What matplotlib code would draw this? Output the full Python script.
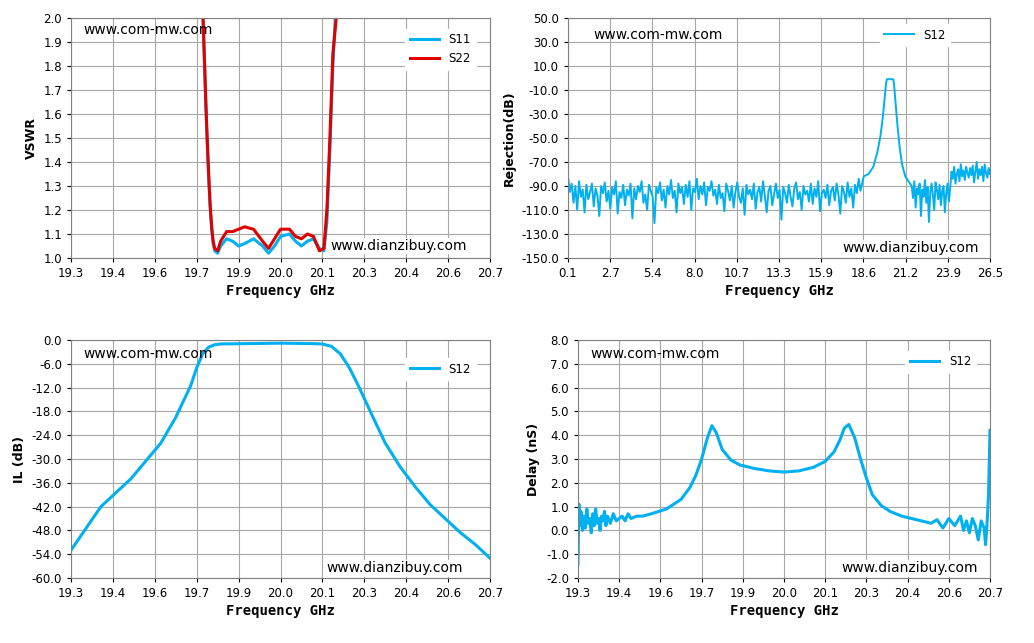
import numpy as np
import matplotlib.pyplot as plt

plt.rcParams['font.family'] = 'DejaVu Sans'

blue = '#00B0F0'
red = '#E00000'

# VSWR
vswr_f11 = [19.740, 19.745, 19.75, 19.755, 19.76, 19.765, 19.77, 19.775, 19.78, 19.79, 19.80, 19.82, 19.84, 19.86, 19.88,
            19.91, 19.94, 19.96, 19.98, 20.00, 20.03, 20.05, 20.07, 20.09, 20.11, 20.13, 20.145, 20.155, 20.165, 20.175, 20.185]
vswr_s11 = [2.05, 1.85, 1.65, 1.48, 1.33, 1.21, 1.12, 1.06, 1.03, 1.02, 1.05, 1.08, 1.07, 1.05, 1.06,
            1.08, 1.05, 1.02, 1.05, 1.09, 1.10, 1.07, 1.05, 1.07, 1.08, 1.04, 1.03, 1.15, 1.45, 1.8, 2.05]
vswr_f22 = [19.740, 19.745, 19.75, 19.755, 19.76, 19.765, 19.77, 19.775, 19.78, 19.79, 19.80, 19.82, 19.84, 19.86, 19.88,
            19.91, 19.94, 19.96, 19.98, 20.00, 20.03, 20.05, 20.07, 20.09, 20.11, 20.13, 20.145, 20.155, 20.165, 20.175, 20.19]
vswr_s22 = [2.05, 1.86, 1.67, 1.50, 1.35, 1.22, 1.13, 1.07, 1.04, 1.03, 1.07, 1.11, 1.11, 1.12, 1.13,
            1.12, 1.07, 1.04, 1.08, 1.12, 1.12, 1.09, 1.08, 1.10, 1.09, 1.03, 1.04, 1.2, 1.5, 1.85, 2.05]

# Rejection
rej_noise_lo = [-82, -95, -88, -104, -90, -110, -86, -99, -93, -112, -89, -101, -95, -88, -107, -92, -98, -115, -90, -96,
                -87, -103, -94, -109, -91, -97, -86, -113, -95, -100, -89, -106, -93, -98, -88, -117, -92, -101, -90, -95,
                -86, -104, -97, -110, -89, -94, -99, -121, -91, -96, -87, -102, -93, -108, -90, -97, -85, -100, -94, -112,
                -88, -96, -91, -105, -89, -99, -86, -110, -92, -95, -84, -101, -90, -97, -87, -106, -91, -94, -86, -98,
                -93, -105, -89, -100, -96, -111, -88, -94, -102, -90, -108, -95, -87, -99, -104, -92, -114, -89, -97, -93,
                -101, -88, -109, -95, -91, -103, -86, -98, -112, -94, -90, -106, -97, -88, -100, -93, -118, -91, -96, -104,
                -89, -99, -107, -92, -87, -101, -95, -110, -90, -97, -94, -103, -88, -105, -92, -99, -86, -111, -96, -93,
                -100, -89, -106, -94, -91, -102, -88, -97, -113, -90, -95, -104, -87, -99, -92, -108, -89, -96, -84, -94]
rej_lo_f = list(np.linspace(0.1, 18.4, len(rej_noise_lo)))
rej_peak_f = [18.6, 18.9, 19.2, 19.45, 19.65, 19.8, 19.9, 20.0, 20.05, 20.45, 20.5, 20.6, 20.7, 20.85, 21.0, 21.2, 21.5]
rej_peak = [-82, -80, -74, -62, -48, -32, -18, -4, -1, -1, -6, -22, -38, -58, -72, -82, -88]
rej_noise_hi = [-90, -100, -86, -108, -92, -97, -88, -115, -93, -99, -85, -104, -91, -120, -95, -88,
                -98, -110, -87, -93, -101, -89, -106, -94, -90, -112, -96, -88, -103, -92,
                -78, -84, -74, -88, -80, -76, -86, -72, -82, -77, -85, -74, -79, -83, -75, -81,
                -73, -87, -78, -70, -84, -76, -81, -74, -86, -72, -79, -83, -75, -80]
rej_hi_f = list(np.linspace(21.6, 26.5, len(rej_noise_hi)))

# Insertion loss
il_f = [19.3, 19.35, 19.4, 19.45, 19.5, 19.55, 19.6, 19.65, 19.7, 19.72, 19.74, 19.76, 19.78, 19.8, 19.9, 20.0, 20.1, 20.14,
        20.17, 20.2, 20.23, 20.26, 20.3, 20.35, 20.4, 20.45, 20.5, 20.55, 20.6, 20.65, 20.7]
il = [-53, -47.5, -42, -38.5, -35, -30.5, -26, -19.5, -11.5, -7, -3.5, -1.8, -1.2, -1.0, -0.9, -0.8, -0.9, -1.0,
      -1.6, -3.5, -7, -11.5, -18, -26, -32, -37, -41.5, -45, -48.5, -51.5, -55]

# Group delay
gd_f = [19.3, 19.303, 19.306, 19.31, 19.315, 19.32, 19.325, 19.33, 19.335, 19.34, 19.345, 19.35, 19.355, 19.36, 19.365,
        19.37, 19.375, 19.38, 19.385, 19.39, 19.395, 19.40, 19.41, 19.42, 19.43, 19.44, 19.45, 19.46, 19.47, 19.48, 19.5,
        19.52, 19.55, 19.6, 19.65, 19.68, 19.7, 19.72, 19.74, 19.755, 19.77, 19.79, 19.82, 19.85, 19.9, 19.95, 20.0, 20.05,
        20.1, 20.14, 20.17, 20.19, 20.205, 20.22, 20.24, 20.26, 20.28, 20.3, 20.33, 20.36, 20.4, 20.45, 20.5, 20.52, 20.54,
        20.56, 20.58, 20.6, 20.61, 20.62, 20.63, 20.64, 20.65, 20.66, 20.67, 20.68, 20.685, 20.69, 20.695, 20.7]
gd = [-1.4, 1.1, 0.2, 0.8, 0.0, 0.6, 0.1, 0.9, 0.3, 0.5, -0.1, 0.7, 0.2, 0.9, 0.3, 0.5, 0.0, 0.6, 0.4, 0.8,
      0.2, 0.6, 0.3, 0.7, 0.4, 0.5, 0.6, 0.4, 0.7, 0.5, 0.6,
      0.6, 0.7, 0.9, 1.3, 1.8, 2.3, 3.0, 3.9, 4.4, 4.1, 3.4, 2.95, 2.75, 2.6, 2.5, 2.45, 2.5,
      2.65, 2.9, 3.3, 3.8, 4.3, 4.45, 3.9, 3.0, 2.2, 1.5, 1.05, 0.8, 0.6, 0.45, 0.3, 0.45, 0.1,
      0.5, 0.2, 0.6, 0.0, 0.4, -0.1, 0.5, 0.2, -0.4, 0.4, 0.1, -0.6, 0.3, 1.5, 4.2]

fig = plt.figure(figsize=(10.34, 6.43), dpi=100)
W, H = 1034, 643


def make_ax(l, t, r, b):
    ax = fig.add_axes([l / W, 1 - b / H, (r - l) / W, (b - t) / H])
    ax.grid(True, color='#A6A6A6', linewidth=0.8)
    ax.set_axisbelow(True)
    ax.tick_params(labelsize=8.5, length=3)
    for s in ax.spines.values():
        s.set_color('#808080')
    ax.set_xlabel('Frequency GHz', family='DejaVu Sans Mono', fontweight='bold', fontsize=10, labelpad=3)
    return ax


def freq_axis(ax):
    ticks = np.linspace(19.3, 20.7, 11)
    ax.set_xlim(19.3, 20.7)
    ax.set_xticks(ticks)
    ax.set_xticklabels([f'{t:.1f}' for t in ticks])


def add_legend(ax, anchor):
    ax.legend(loc='upper right', bbox_to_anchor=anchor, fontsize=8.5, edgecolor='white', framealpha=1,
              handlelength=2.5, fancybox=False)


ax1 = make_ax(71, 18, 490, 258)
ax1.plot(vswr_f11, vswr_s11, color=blue, lw=2.2, label='S11')
ax1.plot(vswr_f22, vswr_s22, color=red, lw=2.2, label='S22')
freq_axis(ax1)
ax1.set_ylim(1.0, 2.0)
ax1.set_yticks(np.arange(1.0, 2.01, 0.1))
ax1.set_yticklabels([f'{v:.1f}' for v in np.arange(1.0, 2.01, 0.1)])
ax1.set_ylabel('VSWR', fontweight='bold', fontsize=9)
ax1.text(0.03, 0.95, 'www.com-mw.com', transform=ax1.transAxes, fontsize=10, va='center')
ax1.text(0.62, 0.05, 'www.dianzibuy.com', transform=ax1.transAxes, fontsize=10, va='center',
         bbox=dict(facecolor='white', edgecolor='none', pad=1))
add_legend(ax1, (0.98, 0.98))

ax2 = make_ax(568, 18, 990, 258)
ax2.plot(rej_lo_f + rej_peak_f + rej_hi_f, rej_noise_lo + rej_peak + rej_noise_hi, color=blue, lw=1.4, label='S12')
ticks = np.linspace(0.1, 26.5, 11)
ax2.set_xlim(0.1, 26.5)
ax2.set_xticks(ticks)
ax2.set_xticklabels([f'{t:.1f}' for t in ticks])
ax2.set_ylim(-150, 50)
ax2.set_yticks(np.arange(-150, 51, 20))
ax2.set_yticklabels([f'{v:.1f}' for v in np.arange(-150, 51, 20)])
ax2.set_ylabel('Rejection(dB)', fontweight='bold', fontsize=9)
ax2.text(0.06, 0.93, 'www.com-mw.com', transform=ax2.transAxes, fontsize=10, va='center')
ax2.text(0.65, 0.04, 'www.dianzibuy.com', transform=ax2.transAxes, fontsize=10, va='center',
         bbox=dict(facecolor='white', edgecolor='none', pad=1))
add_legend(ax2, (0.92, 1.0))

ax3 = make_ax(71, 340, 490, 578)
ax3.plot(il_f, il, color=blue, lw=2.2, label='S12')
freq_axis(ax3)
ax3.set_ylim(-60, 0)
ax3.set_yticks(np.arange(-60, 1, 6))
ax3.set_yticklabels([f'{v:.1f}' for v in np.arange(-60, 1, 6)])
ax3.set_ylabel('IL (dB)', fontweight='bold', fontsize=9)
ax3.text(0.03, 0.94, 'www.com-mw.com', transform=ax3.transAxes, fontsize=10, va='center')
ax3.text(0.61, 0.04, 'www.dianzibuy.com', transform=ax3.transAxes, fontsize=10, va='center',
         bbox=dict(facecolor='white', edgecolor='none', pad=1))
add_legend(ax3, (0.98, 0.95))

ax4 = make_ax(578, 340, 990, 578)
ax4.plot(gd_f, gd, color=blue, lw=2.2, label='S12')
freq_axis(ax4)
ax4.set_ylim(-2, 8)
ax4.set_yticks(np.arange(-2, 8.1, 1))
ax4.set_yticklabels([f'{v:.1f}' for v in np.arange(-2, 8.1, 1)])
ax4.set_ylabel('Delay (nS)', fontweight='bold', fontsize=9)
ax4.text(0.03, 0.94, 'www.com-mw.com', transform=ax4.transAxes, fontsize=10, va='center')
ax4.text(0.64, 0.04, 'www.dianzibuy.com', transform=ax4.transAxes, fontsize=10, va='center',
         bbox=dict(facecolor='white', edgecolor='none', pad=1))
add_legend(ax4, (0.98, 0.98))

fig.savefig('out.png', dpi=100)
